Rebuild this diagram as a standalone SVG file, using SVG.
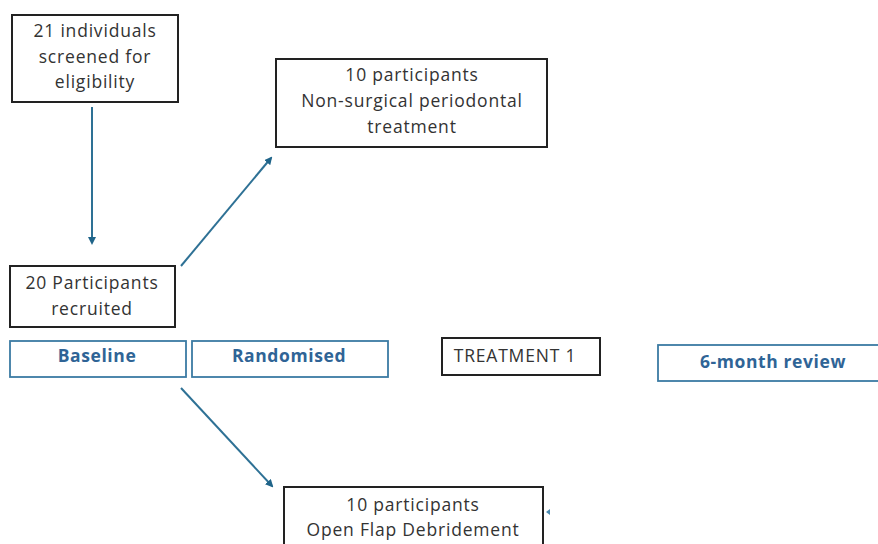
<svg xmlns="http://www.w3.org/2000/svg" width="878" height="544" viewBox="0 0 878 544">
<style>
.box{fill:#fff;stroke:#222;stroke-width:2}
.bbox{fill:#fff;stroke:#3b7ba3;stroke-width:1.8}
.t{font-family:"Open Sans","Liberation Sans",sans-serif;font-size:17.5px;letter-spacing:0.8px;fill:#333;text-anchor:middle}
.b{font-family:"Open Sans","Liberation Sans",sans-serif;font-size:17.5px;letter-spacing:0.6px;font-weight:bold;fill:#2f6496;text-anchor:middle}
.c{stroke:#2e7195;stroke-width:2;fill:none;marker-end:url(#ah)}
</style>
<defs>
<marker id="ah" markerWidth="8" markerHeight="8" refX="6" refY="4" orient="auto" markerUnits="userSpaceOnUse">
<path d="M0,0 L8,4 L0,8 Z" fill="#1f6489"/>
</marker>
</defs>
<rect width="878" height="544" fill="#fff"/>
<g id="connectors">
<line class="c" x1="92" y1="107" x2="92" y2="243"/>
<line class="c" x1="181" y1="266" x2="271" y2="158"/>
<line class="c" x1="181" y1="388" x2="272" y2="486"/>
<path d="M550,509 L546,512 L550,515 Z" fill="#4a8ab0"/>
</g>
<g id="screened">
<rect class="box" x="12" y="15" width="166" height="87"/>
<text class="t" x="95" y="37">21 individuals</text>
<text class="t" x="95" y="63">screened for</text>
<text class="t" x="95" y="88">eligibility</text>
</g>
<g id="nonsurgical">
<rect class="box" x="276" y="59" width="271" height="88"/>
<text class="t" x="412" y="81">10 participants</text>
<text class="t" x="412" y="107">Non-surgical periodontal</text>
<text class="t" x="412" y="133">treatment</text>
</g>
<g id="recruited">
<rect class="box" x="10" y="266" width="165" height="61"/>
<text class="t" x="92" y="289">20 Participants</text>
<text class="t" x="92" y="315">recruited</text>
</g>
<g id="baseline">
<rect class="bbox" x="10" y="341" width="176" height="36"/>
<text class="b" x="97" y="362">Baseline</text>
</g>
<g id="randomised">
<rect class="bbox" x="192" y="341" width="196" height="36"/>
<text class="b" x="289" y="362">Randomised</text>
</g>
<g id="treatment1">
<rect class="box" x="442" y="338" width="158" height="37"/>
<text class="t" x="515" y="362">TREATMENT 1</text>
</g>
<g id="review">
<rect class="bbox" x="658" y="345" width="224" height="36"/>
<text class="b" x="773" y="368">6-month review</text>
</g>
<g id="ofd">
<rect class="box" x="284" y="487" width="259" height="64"/>
<text class="t" x="413" y="511">10 participants</text>
<text class="t" x="413" y="536">Open Flap Debridement</text>
</g>
</svg>
